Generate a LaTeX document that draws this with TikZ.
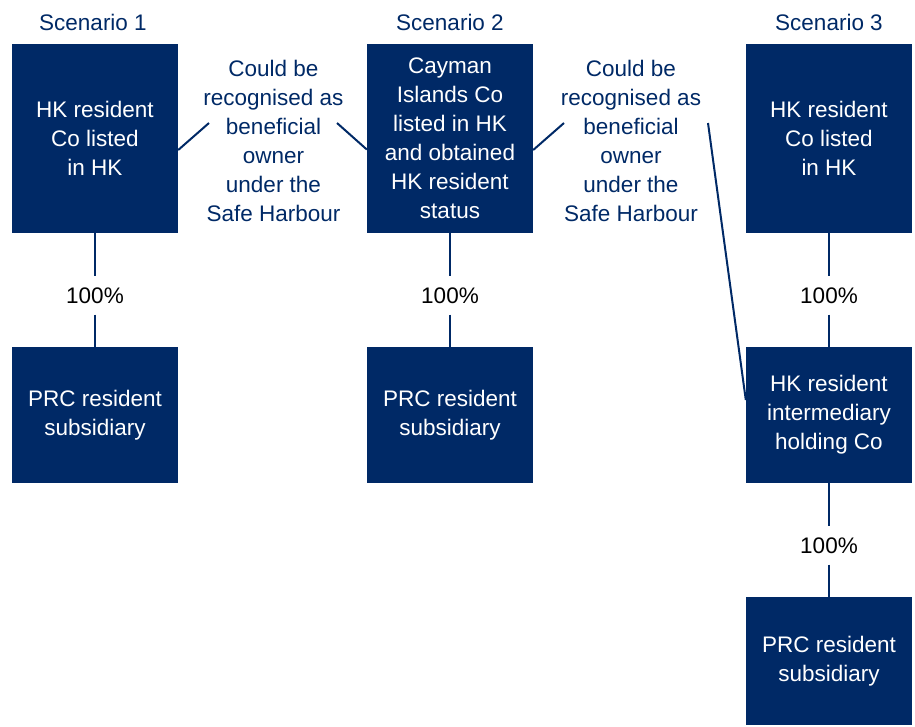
\documentclass[tikz,border=0pt]{standalone}
\usepackage{fontspec}
\setmainfont{Liberation Sans}
\usetikzlibrary{calc}
\definecolor{navy}{RGB}{0,41,102}

\begin{document}
\begin{tikzpicture}[x=1pt, y=-1pt,
  font=\fontsize{22.5}{29}\selectfont,
  entity/.style={rectangle, fill=navy, text=white, align=center,
    minimum width=166pt, inner sep=0pt},
  share/.style={inner xsep=2pt, inner ysep=11pt, text=black},
  title/.style={text=navy},
  note/.style={text=navy, align=center, inner sep=0pt},
  link/.style={draw=navy, line width=2pt}]
  \useasboundingbox (0,0) rectangle (915,726);
  \foreach[count=\i] \x in {93, 450, 829}
    \node[title] (s\i) at (\x, 22) {Scenario \i};
  % scenario 1
  \node[entity, minimum height=189pt] (hk1) at (95, 138.5) {HK resident\\Co listed\\in HK};
  \node[share] (p1) at (95, 295.5) {100\%};
  \node[entity, minimum height=136pt] (prc1) at (95, 415) {PRC resident\\subsidiary};
  \draw[link] (hk1) -- (p1) -- (prc1);
  % scenario 2
  \node[entity, minimum height=189pt] (cay2) at (450, 138.5)
    {Cayman\\Islands Co\\listed in HK\\and obtained\\HK resident\\status};
  \node[share] (p2) at (450, 295.5) {100\%};
  \node[entity, minimum height=136pt] (prc2) at (450, 415) {PRC resident\\subsidiary};
  \draw[link] (cay2) -- (p2) -- (prc2);
  % scenario 3
  \node[entity, minimum height=189pt] (hk3) at (829, 138.5) {HK resident\\Co listed\\in HK};
  \node[share] (p3) at (829, 295.5) {100\%};
  \node[entity, minimum height=136pt] (mid3) at (829, 415)
    {HK resident\\intermediary\\holding Co};
  \node[share] (p4) at (829, 545.5) {100\%};
  \node[entity, minimum height=128pt] (prc3) at (829, 661) {PRC resident\\subsidiary};
  \draw[link] (hk3) -- (p3) -- (mid3) -- (p4) -- (prc3);
  % safe harbour notes
  \node[note] (bo1) at (273.5, 141)
    {Could be\\recognised as\\beneficial\\owner\\under the\\Safe Harbour};
  \node[note] (bo2) at (631, 141)
    {Could be\\recognised as\\beneficial\\owner\\under the\\Safe Harbour};
  \coordinate (bo1l) at (209, 123);
  \coordinate (bo1r) at (337, 123);
  \coordinate (bo2l) at (564, 123);
  \coordinate (bo2r) at (708, 123);
  \draw[link] ($(hk1.east)+(0, 11.5)$) -- (bo1l);
  \draw[link] (bo1r) -- ($(cay2.west)+(0, 11)$);
  \draw[link] ($(cay2.east)+(0, 11.5)$) -- (bo2l);
  \draw[link] (bo2r) -- ($(mid3.west)+(0, -15)$);
\end{tikzpicture}
\end{document}
